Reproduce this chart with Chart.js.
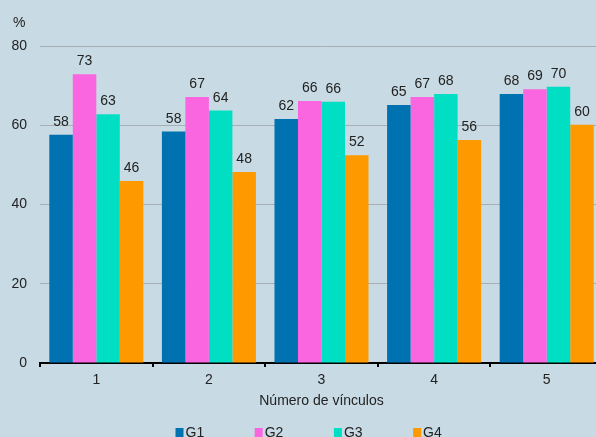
<!DOCTYPE html>
<html><head><meta charset="utf-8">
<script src="https://cdn.jsdelivr.net/npm/chart.js@4.4.1/dist/chart.umd.min.js"></script>
<style>
html,body{margin:0;padding:0;background:#C8DAE3;overflow:hidden;width:596px;height:437px;}
#wrap{width:603px;height:437px;position:relative;}
canvas{display:block;}
</style></head><body>
<div id="wrap"><canvas id="c" width="603" height="437"></canvas></div>
<script>
const categories = ['1', '2', '3', '4', '5'];
const seriesNames = ['G1', 'G2', 'G3', 'G4'];
const g1Values = [57.6, 58.4, 61.6, 65.1, 67.9];
const g2Values = [72.9, 67.1, 66.1, 67.1, 69.1];
const g3Values = [62.8, 63.7, 65.9, 67.9, 69.7];
const g4Values = [45.9, 48.2, 52.4, 56.3, 60.1];
const yTickValues = [0, 20, 40, 60, 80];
const yUnit = '%';
const xTitle = 'Número de vínculos';

const seriesColors = ['#0072B2', '#FA66E0', '#00DFC4', '#FF9900'];
const allValues = [g1Values, g2Values, g3Values, g4Values];
const FONT = '"Liberation Sans", Arial, sans-serif';
const TEXT = '#222222';

const valueLabels = {
  id: 'valueLabels',
  afterDatasetsDraw(chart) {
    const ctx = chart.ctx;
    ctx.save();
    ctx.font = '14px ' + FONT;
    ctx.fillStyle = TEXT;
    ctx.textAlign = 'center';
    ctx.textBaseline = 'alphabetic';
    chart.data.datasets.forEach((ds, i) => {
      const meta = chart.getDatasetMeta(i);
      meta.data.forEach((bar, j) => {
        ctx.fillText(String(Math.round(ds.data[j])), bar.x, bar.y - 9);
      });
    });
    ctx.restore();
  }
};

const extras = {
  id: 'extras',
  afterDraw(chart) {
    const ctx = chart.ctx;
    const area = chart.chartArea;
    ctx.save();
    ctx.font = '14px ' + FONT;
    ctx.fillStyle = TEXT;
    ctx.textAlign = 'left';
    ctx.textBaseline = 'middle';
    ctx.fillText(yUnit, 13, area.top - 23);
    const cx = (area.left + area.right) / 2;
    const start = cx - 146;
    const step = 79.2;
    ctx.textBaseline = 'alphabetic';
    chart.data.datasets.forEach((ds, i) => {
      const x = start + i * step;
      ctx.fillStyle = ds.backgroundColor;
      ctx.fillRect(x, 428, 8, 9);
      ctx.fillStyle = TEXT;
      ctx.fillText(ds.label, x + 10, 436.5);
    });
    ctx.restore();
  }
};

new Chart(document.getElementById('c'), {
  type: 'bar',
  data: {
    labels: categories,
    datasets: seriesNames.map((name, i) => ({
      label: name,
      data: allValues[i],
      backgroundColor: seriesColors[i],
      borderWidth: 0
    }))
  },
  options: {
    responsive: false,
    devicePixelRatio: 1,
    animation: false,
    layout: { padding: { top: 46, left: 0, right: 0, bottom: 27 } },
    datasets: { bar: { categoryPercentage: 0.835, barPercentage: 1.0 } },
    plugins: { legend: { display: false }, tooltip: { enabled: false }, title: { display: false } },
    scales: {
      x: {
        offset: true,
        afterFit(s) { s.height = 47; },
        grid: { display: true, offset: true, drawOnChartArea: false, drawTicks: true, tickLength: 4, color: '#000', lineWidth: 2 },
        border: { display: true, color: '#000', width: 2 },
        ticks: { color: TEXT, font: { family: FONT, size: 14 }, padding: 5 },
        title: { display: true, text: xTitle, color: TEXT, font: { family: FONT, size: 14 }, padding: { top: 0, bottom: 0 } }
      },
      y: {
        min: 0, max: 80,
        afterFit(s) { s.width = 40; },
        afterBuildTicks(s) { s.ticks = yTickValues.map(v => ({ value: v })); },
        grid: { color: '#A8AFB4', lineWidth: 1, drawTicks: false },
        border: { display: false },
        ticks: { color: TEXT, font: { family: FONT, size: 14 }, padding: 13 }
      }
    }
  },
  plugins: [valueLabels, extras]
});
</script>
</body></html>
